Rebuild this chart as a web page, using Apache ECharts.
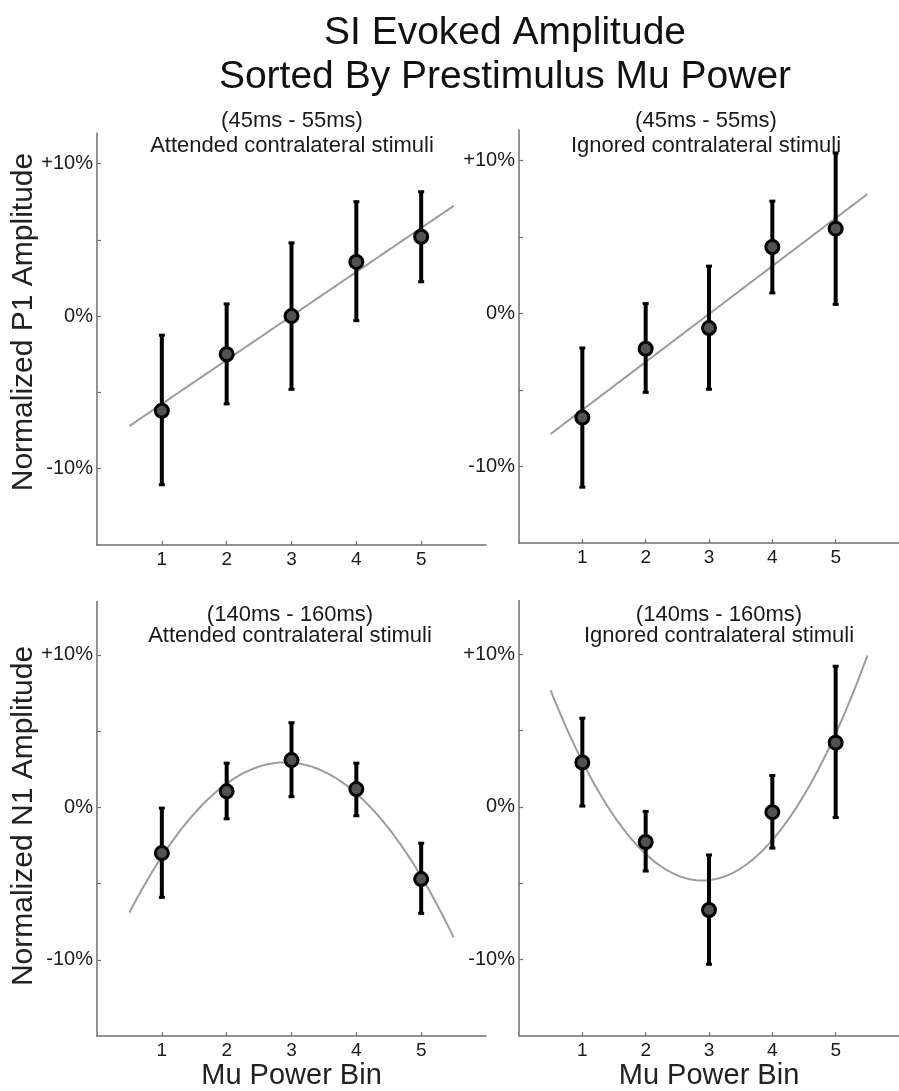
<!DOCTYPE html>
<html>
<head>
<meta charset="utf-8">
<style>
  html, body { margin: 0; padding: 0; background: #ffffff; }
  #chart { width: 899px; height: 1091px; }
</style>
<script src="https://cdn.jsdelivr.net/npm/echarts@6/dist/echarts.min.js"></script>
</head>
<body>
<div id="chart"></div>
<script>
// ---------------- DATA ----------------
const bins = [1, 2, 3, 4, 5];
const xTickValues = [1, 2, 3, 4, 5];
const yTickValues = [-10, -5, 0, 5, 10];
const yLabelValues = [-10, 0, 10];

// P1 (45ms - 55ms), attended
const p1AttendedMean = [-6.2, -2.5, 0.0, 3.55, 5.2];
const p1AttendedLow  = [-11.05, -5.75, -4.8, -0.3, 2.25];
const p1AttendedHigh = [-1.25, 0.8, 4.8, 7.5, 8.15];

// P1 (45ms - 55ms), ignored
const p1IgnoredMean = [-6.8, -2.3, -0.95, 4.35, 5.55];
const p1IgnoredLow  = [-11.35, -5.15, -4.95, 1.35, 0.6];
const p1IgnoredHigh = [-2.25, 0.65, 3.1, 7.35, 10.5];

// N1 (140ms - 160ms), attended
const n1AttendedMean = [-3.0, 1.05, 3.1, 1.2, -4.7];
const n1AttendedLow  = [-5.9, -0.75, 0.7, -0.55, -6.95];
const n1AttendedHigh = [-0.05, 2.9, 5.55, 2.9, -2.35];

// N1 (140ms - 160ms), ignored
const n1IgnoredMean = [2.9, -2.3, -6.75, -0.35, 4.2];
const n1IgnoredLow  = [0.05, -4.2, -10.3, -2.7, -0.7];
const n1IgnoredHigh = [5.8, -0.3, -3.15, 2.05, 9.2];

// Fit range (x) of the gray regression curves
const fitRange = [0.5, 5.5];

// ---------------- helpers ----------------
// least-squares polynomial fit (degree 1 or 2) of the plotted means
function polyFit(xs, ys, deg) {
  const n = deg + 1;
  const A = [], b = [];
  for (let r = 0; r < n; r++) {
    A.push([]);
    let s = 0;
    for (let k = 0; k < xs.length; k++) s += Math.pow(xs[k], r) * ys[k];
    b.push(s);
    for (let c = 0; c < n; c++) {
      let t = 0;
      for (let k = 0; k < xs.length; k++) t += Math.pow(xs[k], r + c);
      A[r].push(t);
    }
  }
  for (let i = 0; i < n; i++) {
    let p = i;
    for (let r = i + 1; r < n; r++) if (Math.abs(A[r][i]) > Math.abs(A[p][i])) p = r;
    [A[i], A[p]] = [A[p], A[i]]; [b[i], b[p]] = [b[p], b[i]];
    for (let r = i + 1; r < n; r++) {
      const f = A[r][i] / A[i][i];
      for (let c = i; c < n; c++) A[r][c] -= f * A[i][c];
      b[r] -= f * b[i];
    }
  }
  const coef = new Array(n).fill(0);
  for (let i = n - 1; i >= 0; i--) {
    let s = b[i];
    for (let c = i + 1; c < n; c++) s -= A[i][c] * coef[c];
    coef[i] = s / A[i][i];
  }
  return coef;
}
function fitCurve(xs, ys, deg) {
  const coef = polyFit(xs, ys, deg);
  const pts = [];
  const steps = 100;
  for (let i = 0; i <= steps; i++) {
    const x = fitRange[0] + (fitRange[1] - fitRange[0]) * i / steps;
    let y = 0;
    for (let c = 0; c < coef.length; c++) y += coef[c] * Math.pow(x, c);
    pts.push([x, y]);
  }
  return pts;
}

// ---------------- layout / style ----------------
const FONT = '"Liberation Sans", Arial, Helvetica, sans-serif';
const AXIS_COLOR = '#6e6e6e';
const TEXT_COLOR = '#1a1a1a';

const panels = [
  { mean: p1AttendedMean, low: p1AttendedLow, high: p1AttendedHigh, deg: 1, ymax: 12,
    grid: { left: 97, top: 133, width: 389, height: 412 },
    sub: '(45ms - 55ms)\nAttended contralateral stimuli', subX: 287, subTop: 103, subLH: 25,
    yTitle: 'Normalized P1 Amplitude', yTitleY: 322, xName: '' },
  { mean: p1IgnoredMean, low: p1IgnoredLow, high: p1IgnoredHigh, deg: 1, ymax: 12,
    grid: { left: 519, top: 130, width: 391.5, height: 413 },
    sub: '(45ms - 55ms)\nIgnored contralateral stimuli', subX: 701, subTop: 103, subLH: 25,
    yTitle: '', xName: '' },
  { mean: n1AttendedMean, low: n1AttendedLow, high: n1AttendedHigh, deg: 2, ymax: 13.5,
    grid: { left: 97, top: 601.5, width: 389, height: 436.5 },
    sub: '(140ms - 160ms)\nAttended contralateral stimuli', subX: 285, subTop: 599, subLH: 21,
    yTitle: 'Normalized N1 Amplitude', yTitleY: 816, xName: 'Mu Power Bin' },
  { mean: n1IgnoredMean, low: n1IgnoredLow, high: n1IgnoredHigh, deg: 2, ymax: 13.5,
    grid: { left: 519, top: 600.5, width: 391.5, height: 436.5 },
    sub: '(140ms - 160ms)\nIgnored contralateral stimuli', subX: 714, subTop: 599, subLH: 21,
    yTitle: '', xName: 'Mu Power Bin' }
];

const grids = [], xAxes = [], yAxes = [], series = [], titles = [], graphics = [];

titles.push({
  text: 'SI Evoked Amplitude\nSorted By Prestimulus Mu Power',
  left: 500, top: 6, textAlign: 'center',
  textStyle: { fontFamily: FONT, fontSize: 39, fontWeight: 'normal', color: '#111', lineHeight: 44 }
});

panels.forEach((p, i) => {
  grids.push(Object.assign({ containLabel: false }, p.grid));

  titles.push({
    text: p.sub, left: p.subX, top: p.subTop, textAlign: 'center',
    textStyle: { fontFamily: FONT, fontSize: 22, fontWeight: 'normal', color: TEXT_COLOR, lineHeight: p.subLH, align: 'center' }
  });

  xAxes.push({
    gridIndex: i, type: 'value', min: 0, max: 6,
    axisLine: { show: true, onZero: false, lineStyle: { color: AXIS_COLOR, width: 1.5 } },
    axisTick: { show: true, inside: true, length: 4, customValues: xTickValues, lineStyle: { color: AXIS_COLOR, width: 1.2 } },
    axisLabel: { show: true, customValues: xTickValues, fontSize: 19, fontFamily: FONT, color: TEXT_COLOR, margin: 5 },
    splitLine: { show: false },
    name: p.xName, nameLocation: 'middle', nameGap: 21,
    nameTextStyle: { fontFamily: FONT, fontSize: 29, color: '#222', lineHeight: 29 }
  });

  yAxes.push({
    gridIndex: i, type: 'value', min: -15, max: p.ymax,
    axisLine: { show: true, onZero: false, lineStyle: { color: AXIS_COLOR, width: 1.5 } },
    axisTick: { show: true, inside: true, length: 4, customValues: yTickValues, lineStyle: { color: AXIS_COLOR, width: 1.2 } },
    axisLabel: {
      show: true, customValues: yLabelValues, fontSize: 20, fontFamily: FONT, color: TEXT_COLOR, margin: 4,
      formatter: v => (v > 0 ? '+' + v + '%' : v + '%')
    },
    splitLine: { show: false }
  });

  // gray regression curve
  series.push({
    type: 'line', xAxisIndex: i, yAxisIndex: i,
    data: fitCurve(bins, p.mean, p.deg),
    showSymbol: false, smooth: false, silent: true, z: 1,
    lineStyle: { color: '#9c9c9c', width: 2 }
  });

  // error bars
  series.push({
    type: 'custom', xAxisIndex: i, yAxisIndex: i, z: 3, silent: true,
    data: bins.map((b, k) => [b, p.low[k], p.high[k]]),
    encode: { x: 0, y: [1, 2] },
    renderItem: function (params, api) {
      const x = api.value(0);
      const a = api.coord([x, api.value(1)]);
      const c = api.coord([x, api.value(2)]);
      return {
        type: 'group',
        children: [
          { type: 'line', shape: { x1: a[0], y1: a[1], x2: c[0], y2: c[1] }, style: { stroke: '#000', lineWidth: 4 } },
          { type: 'rect', shape: { x: a[0] - 3, y: a[1] - 1.5, width: 6, height: 3 }, style: { fill: '#000' } },
          { type: 'rect', shape: { x: c[0] - 3, y: c[1] - 1.5, width: 6, height: 3 }, style: { fill: '#000' } }
        ]
      };
    }
  });

  // means
  series.push({
    type: 'scatter', xAxisIndex: i, yAxisIndex: i, z: 5,
    data: bins.map((b, k) => [b, p.mean[k]]),
    symbol: 'circle', symbolSize: 13,
    itemStyle: { color: '#525252', borderColor: '#000', borderWidth: 3, opacity: 1 }
  });

  if (p.yTitle) {
    graphics.push({
      type: 'text', x: 24, y: p.yTitleY, rotation: Math.PI / 2,
      style: { text: p.yTitle, font: '30px ' + FONT, fill: '#222', align: 'center', verticalAlign: 'middle' }
    });
  }
});

const chart = echarts.init(document.getElementById('chart'), null, { renderer: 'canvas' });
chart.setOption({
  animation: false,
  backgroundColor: '#ffffff',
  title: titles,
  grid: grids,
  xAxis: xAxes,
  yAxis: yAxes,
  series: series,
  graphic: graphics
});
</script>
</body>
</html>
